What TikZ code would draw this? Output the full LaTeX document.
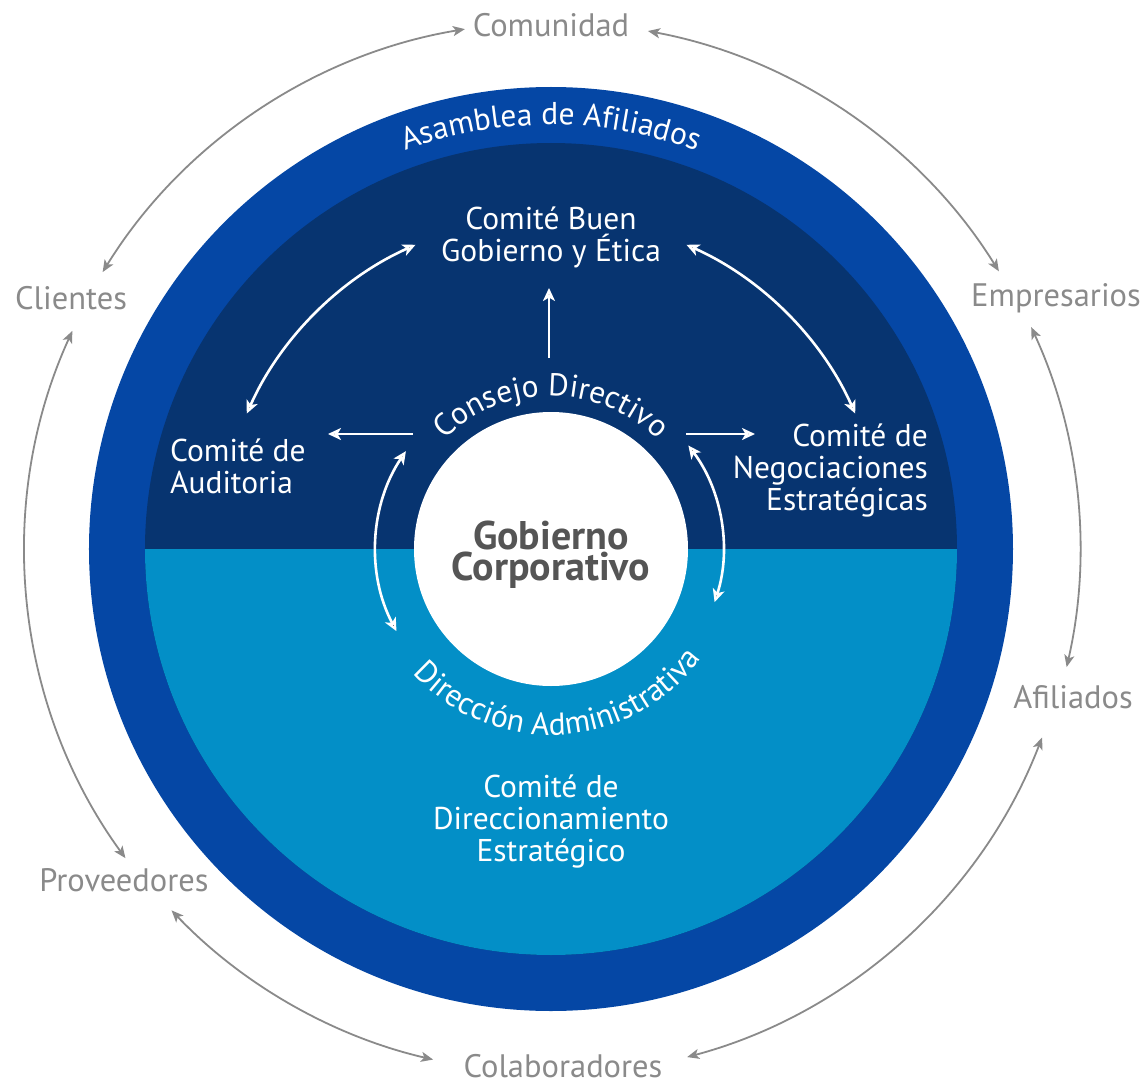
\documentclass[tikz,border=0pt]{standalone}
\usepackage{fontspec}
\setmainfont{PT Sans}
\usetikzlibrary{arrows.meta,decorations.text}
\definecolor{ringblue}{RGB}{5,71,165}
\definecolor{navy}{RGB}{7,52,112}
\definecolor{skyblue}{RGB}{3,143,199}
\definecolor{labelgrey}{RGB}{138,138,138}
\definecolor{coregrey}{RGB}{85,85,85}
\newcommand{\labfont}{\fontsize{31.5}{32}\selectfont}
\newcommand{\outfont}{\fontsize{32.5}{32}\selectfont}
\newcommand{\curvefont}{\fontsize{31.5}{30}\selectfont}
\tikzset{
  gtip/.tip={Stealth[length=12pt,width=10pt,inset=3pt]},
  wtip/.tip={Stealth[length=13pt,width=12pt,inset=3.5pt]},
  outerlabel/.style={text=labelgrey, font=\outfont, inner sep=0pt},
  innerlabel/.style={text=white, font=\labfont, inner sep=0pt},
  greyarrow/.style={draw=labelgrey, line width=1.8pt, gtip-gtip},
  whitearrow/.style={draw=white, line width=2.6pt, -wtip},
  whitedouble/.style={draw=white, line width=2.6pt, wtip-wtip},
}
\begin{document}
\begin{tikzpicture}[x=1pt,y=1pt]
\useasboundingbox (-551,-536) rectangle (592,549);
% rings
\fill[ringblue] (0,0) circle (462);
\fill[navy] (0,0) circle (406);
\fill[skyblue] (-406,0) arc[start angle=180, end angle=360, radius=406] -- cycle;
\node[circle, fill=white, minimum size=274pt, inner sep=0pt] (core) at (0,0) {};
\node[text=coregrey, inner sep=0pt, font=\bfseries\fontsize{40}{31}\selectfont, align=center]
  (coretext) at (0,-6) {Gobierno\\Corporativo};

% curved labels
\path[decorate, decoration={text along path, text={|\curvefont|Asamblea de Afiliados},
      text align=center, text color=white}]
  (160:424) arc[start angle=160, end angle=20, radius=424];
\path[decorate, decoration={text along path, text={|\curvefont|Consejo Directivo},
      text align=center, text color=white}]
  (150:153) arc[start angle=150, end angle=30, radius=153];
\path[decorate, decoration={text along path, text={|\curvefont|Dirección Administrativa},
      text align=center, text color=white}]
  (200:186) arc[start angle=200, end angle=346, radius=186];

% inner committees
\node[innerlabel, align=center] (buen) at (0,312) {Comité Buen\\Gobierno y Ética};
\node[innerlabel, align=left, anchor=west] (audit) at (-381,83) {Comité de\\Auditoria};
\node[innerlabel, align=right, anchor=east] (nego) at (377,79) {Comité de\\Negociaciones\\Estratégicas};
\node[innerlabel, align=center] (direc) at (0,-272) {Comité de\\Direccionamiento\\Estratégico};

% outer stakeholders
\node[outerlabel] (comunidad) at (0,524) {Comunidad};
\node[outerlabel] (clientes) at (-480,251) {Clientes};
\node[outerlabel] (empresarios) at (505,251) {Empresarios};
\node[outerlabel] (afiliados) at (522,-148) {Afiliados};
\node[outerlabel] (proveedores) at (-427,-331) {Proveedores};
\node[outerlabel] (colaboradores) at (12,-517) {Colaboradores};

% white straight arrows
\coordinate (cdtop) at (-2,191);
\coordinate (buenbot) at (-2,261);
\coordinate (cdleft) at (-138,115);
\coordinate (auditright) at (-223,115);
\coordinate (cdright) at (135,115);
\coordinate (negoleft) at (204,115);
\draw[whitearrow] (cdtop) -- (buenbot);
\draw[whitearrow] (cdleft) -- (auditright);
\draw[whitearrow] (cdright) -- (negoleft);

% white curved double arrows
\coordinate (aa) at (156:333);
\coordinate (ab) at (66:333);
\coordinate (ac) at (146:175);
\coordinate (ad) at (37:172);
\draw[whitedouble] (aa) arc[start angle=156, end angle=114, radius=333];
\draw[whitedouble] (ab) arc[start angle=66, end angle=24, radius=333];
\draw[whitedouble] (ac) arc[start angle=146, end angle=208, radius=175];
\draw[whitedouble] (ad) arc[start angle=37, end angle=-18, radius=172];

% grey outer arcs
\coordinate (g1) at (148.3:527);
\coordinate (g2) at (79.4:527);
\coordinate (g3) at (24.8:529);
\coordinate (g4) at (-21:526);
\coordinate (g5) at (-103:524);
\coordinate (g6) at (-144:526);
\draw[greyarrow] (g1) arc[start angle=148.3, end angle=99.4, radius=527];
\draw[greyarrow] (g2) arc[start angle=79.4, end angle=31.8, radius=527];
\draw[greyarrow] (g3) arc[start angle=24.8, end angle=-12.9, radius=529];
\draw[greyarrow] (g4) arc[start angle=-21, end angle=-75, radius=526];
\draw[greyarrow] (g5) arc[start angle=-103, end angle=-136.4, radius=524];
\draw[greyarrow] (g6) arc[start angle=-144, end angle=-204.5, radius=526];
\end{tikzpicture}
\end{document}
